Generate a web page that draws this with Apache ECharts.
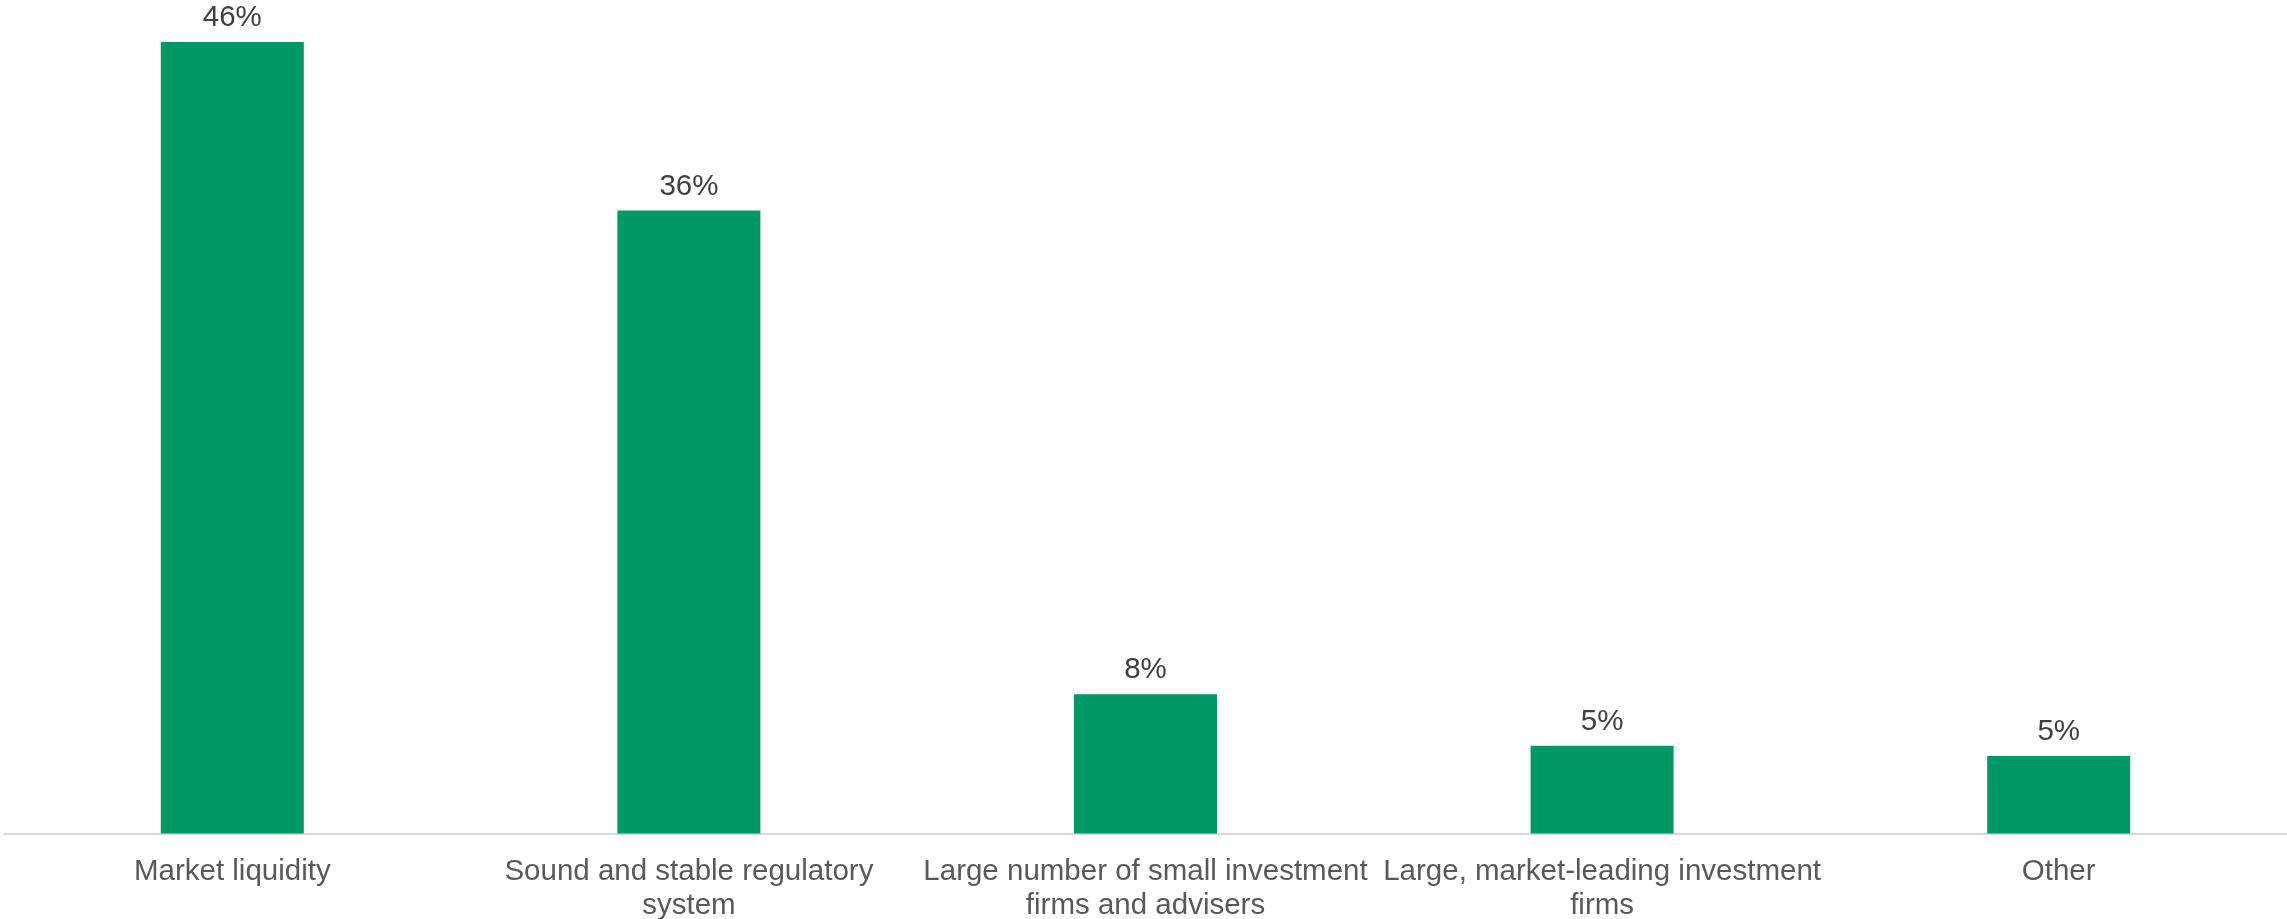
<!DOCTYPE html>
<html>
<head>
<meta charset="utf-8">
<style>
  html, body { margin: 0; padding: 0; background: #ffffff; }
  #chart { width: 2287px; height: 919px; }
</style>
<script src="https://cdn.jsdelivr.net/npm/echarts@6/dist/echarts.min.js"></script>
</head>
<body>
<div id="chart"></div>
<script>
// Share of respondents per factor (%)
const categories = [
  'Market liquidity',
  'Sound and stable regulatory\nsystem',
  'Large number of small investment\nfirms and advisers',
  'Large, market-leading investment\nfirms',
  'Other'
];
const shares = [46, 36.2, 8.1, 5.1, 4.5];

const chart = echarts.init(document.getElementById('chart'), null, { renderer: 'canvas' });

chart.setOption({
  animation: false,
  backgroundColor: '#ffffff',
  grid: {
    left: 4, right: 0, top: 42, bottom: 85.5,
    containLabel: false,
    outerBoundsMode: 'none'
  },
  xAxis: {
    type: 'category',
    data: categories,
    axisLine: { show: true, lineStyle: { color: '#d9d9d9', width: 2 } },
    axisTick: { show: false },
    axisLabel: {
      color: '#595959',
      fontFamily: 'Liberation Sans, Arial, sans-serif',
      fontSize: 29.5,
      lineHeight: 34,
      margin: 21,
      interval: 0
    }
  },
  yAxis: {
    type: 'value',
    min: 0,
    max: 46,
    show: false,
    splitLine: { show: false }
  },
  series: [{
    type: 'bar',
    data: shares,
    barWidth: 143,
    itemStyle: { color: '#009966' },
    label: {
      show: true,
      position: 'top',
      distance: 9,
      color: '#404040',
      fontFamily: 'Liberation Sans, Arial, sans-serif',
      fontSize: 29.5,
      formatter: p => Math.round(p.value) + '%'
    }
  }]
});
</script>
</body>
</html>
